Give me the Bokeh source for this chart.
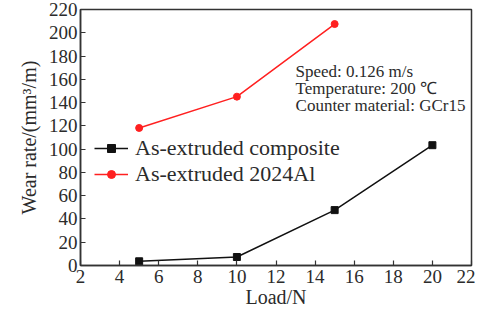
from bokeh.plotting import figure
from bokeh.models import Range1d, Label, Legend, LegendItem, FixedTicker
from bokeh.embed import file_html
from bokeh.resources import INLINE

load = [5, 10, 15, 20]
composite = [3.6, 7.3, 47.6, 103.4]
load_al = [5, 10, 15]
al2024 = [118.2, 145.1, 207.5]
notes = ["Speed: 0.126 m/s", "Temperature: 200 \u2103", "Counter material: GCr15"]
note_y = [166.5, 152, 137.5]

FONT = "Liberation Serif"
TXT = "#2b2b2b"

p = figure(width=475, height=312, output_backend="svg", toolbar_location=None,
           x_range=Range1d(2, 22), y_range=Range1d(0, 220),
           min_border_left=80, min_border_right=4, min_border_top=9, min_border_bottom=47)
p.background_fill_color = "white"
p.border_fill_color = "white"
p.grid.visible = False
p.outline_line_color = "#333333"
p.outline_line_width = 1.5

p.xaxis.ticker = FixedTicker(ticks=list(range(2, 23, 2)))
p.yaxis.ticker = FixedTicker(ticks=list(range(0, 221, 20)))
for ax in (p.xaxis[0], p.yaxis[0]):
    ax.major_tick_in = 5
    ax.major_tick_out = 0
    ax.minor_tick_in = 0
    ax.minor_tick_out = 0
    ax.axis_line_width = 1.5
    ax.axis_line_color = "#333333"
    ax.major_tick_line_color = "#333333"
    ax.major_tick_line_width = 1.2
    ax.major_label_text_font = FONT
    ax.major_label_text_font_size = "19px"
    ax.major_label_text_color = TXT
    ax.axis_label_text_font = FONT
    ax.axis_label_text_font_size = "20px"
    ax.axis_label_text_font_style = "normal"
    ax.axis_label_text_color = TXT
p.xaxis.axis_label = "Load/N"
p.yaxis.axis_label = "Wear rate/(mm\u00b3/m)"
p.xaxis.major_label_standoff = 4
p.yaxis.major_label_standoff = 3
p.xaxis.axis_label_standoff = 0
p.yaxis.axis_label_standoff = 6

BLACK = "#111111"
RED = "#ff2020"
l1 = p.line(load, composite, line_color=BLACK, line_width=1.5)
s1 = p.scatter(load, composite, marker="square", size=7, fill_color=BLACK, line_color=BLACK)
l2 = p.line(load_al, al2024, line_color=RED, line_width=1.5)
s2 = p.scatter(load_al, al2024, marker="circle", size=7, fill_color=RED, line_color=RED)

legend = Legend(items=[LegendItem(label="As-extruded composite", renderers=[l1, s1]),
                       LegendItem(label="As-extruded 2024Al", renderers=[l2, s2])],
                location=(12, 76), background_fill_alpha=0, border_line_alpha=0,
                label_text_font=FONT, label_text_font_size="22px", label_text_color=TXT,
                glyph_width=34, glyph_height=20, spacing=-3, padding=2, margin=0,
                label_standoff=7)
p.add_layout(legend, "center")

for t, yv in zip(notes, note_y):
    p.add_layout(Label(x=13.0, y=yv, text=t, text_font=FONT, text_font_size="17px",
                       text_color=TXT, text_baseline="middle"))

open("out.html", "w").write(file_html(p, INLINE))
